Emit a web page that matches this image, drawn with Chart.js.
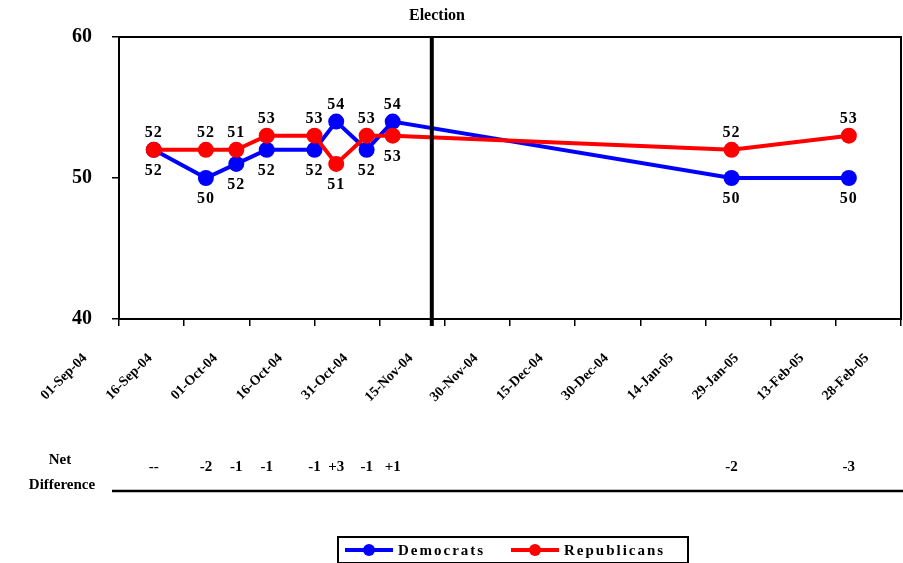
<!DOCTYPE html>
<html>
<head>
<meta charset="utf-8">
<script src="https://cdn.jsdelivr.net/npm/chart.js@4/dist/chart.umd.min.js"></script>
<style>
  html, body { margin: 0; padding: 0; background: #fff; }
  #wrap { width: 903px; height: 563px; }
</style>
</head>
<body>
<div id="wrap"><canvas id="line-chart"></canvas></div>
<script>
// poll dates and results
const pollDates = ['2004-09-09', '2004-09-21', '2004-09-28', '2004-10-05', '2004-10-16',
  '2004-10-21', '2004-10-28', '2004-11-03', '2005-01-20', '2005-02-16']
const democrats = [52, 50, 51, 52, 52, 54, 52, 54, 50, 50]
const republicans = [52, 52, 52, 53, 53, 51, 53, 53, 52, 53]
// labels as printed on the original chart
const demLabels = ['52', '50', '52', '52', '52', '54', '52', '54', '50', '50']
const repLabels = ['52', '52', '51', '53', '53', '51', '53', '53', '52', '53']

const startDate = '2004-09-01'
const electionDate = '2004-11-12'
const tickLabels = ['01-Sep-04', '16-Sep-04', '01-Oct-04', '16-Oct-04', '31-Oct-04', '15-Nov-04',
  '30-Nov-04', '15-Dec-04', '30-Dec-04', '14-Jan-05', '29-Jan-05', '13-Feb-05', '28-Feb-05']

const dayOf = (d) => (Date.parse(d) - Date.parse(startDate)) / 864e5
const serif = 'Liberation Serif'

const overlay = {
  id: 'overlay',
  afterDatasetsDraw (chart) {
    const { ctx, chartArea: area, scales: { x, y } } = chart
    ctx.save()
    // frame
    ctx.strokeStyle = '#000'
    ctx.lineWidth = 2
    ctx.strokeRect(area.left, area.top, area.right - area.left, area.bottom - area.top)
    // election day marker
    const ex = x.getPixelForValue(dayOf(electionDate))
    ctx.lineWidth = 4
    ctx.beginPath()
    ctx.moveTo(ex, area.top)
    ctx.lineTo(ex, area.bottom + 7)
    ctx.stroke()

    // point labels
    ctx.fillStyle = '#000'
    ctx.font = `bold 16px "${serif}"`
    ctx.letterSpacing = '1px'
    ctx.textAlign = 'center'
    ctx.textBaseline = 'middle'
    pollDates.forEach((d, i) => {
      const px = x.getPixelForValue(dayOf(d))
      const demUp = democrats[i] > republicans[i]
      const dy = y.getPixelForValue(democrats[i]) + (demUp ? -17 : 21)
      const ry = y.getPixelForValue(republicans[i]) + (demUp ? 21 : -17)
      ctx.fillText(demLabels[i], px, dy)
      ctx.fillText(repLabels[i], px, ry)
    })

    // net difference row
    ctx.font = `bold 15px "${serif}"`
    ctx.letterSpacing = '0px'
    pollDates.forEach((d, i) => {
      const diff = democrats[i] - republicans[i]
      const txt = i === 0 ? '--' : (diff > 0 ? '+' + diff : String(diff))
      ctx.fillText(txt, x.getPixelForValue(dayOf(d)), 467)
    })
    ctx.fillText('Net', 60, 460)
    ctx.fillText('Difference', 62, 485)
    ctx.lineWidth = 2.5
    ctx.beginPath()
    ctx.moveTo(112, 491)
    ctx.lineTo(903, 491)
    ctx.stroke()

    // title
    ctx.font = `bold 16px "${serif}"`
    ctx.fillText('Election', 437, 16)

    // legend
    ctx.lineWidth = 2
    ctx.strokeRect(338, 537, 350, 26)
    const items = [
      { name: 'Democrats', color: '#0000FF', x: 345 },
      { name: 'Republicans', color: '#FF0000', x: 511 }
    ]
    ctx.textAlign = 'left'
    ctx.font = `bold 15px "${serif}"`
    ctx.letterSpacing = '2px'
    items.forEach((it) => {
      ctx.strokeStyle = it.color
      ctx.fillStyle = it.color
      ctx.lineWidth = 4
      ctx.beginPath()
      ctx.moveTo(it.x, 550)
      ctx.lineTo(it.x + 48, 550)
      ctx.stroke()
      ctx.beginPath()
      ctx.arc(it.x + 24, 550, 6, 0, Math.PI * 2)
      ctx.fill()
      ctx.fillStyle = '#000'
      ctx.fillText(it.name, it.x + 53, 551)
    })
    ctx.restore()
  }
}

const toPoints = (vals) => vals.map((v, i) => ({ x: dayOf(pollDates[i]), y: v }))

// eslint-disable-next-line no-unused-vars, no-undef
const chart = new Chart(document.querySelector('#line-chart'), {
  type: 'line',
  data: {
    datasets: [{
      label: 'Democrats',
      data: toPoints(democrats),
      borderColor: '#0000FF',
      backgroundColor: '#0000FF',
      borderWidth: 4,
      pointRadius: 8,
      pointBorderWidth: 0,
      order: 2
    }, {
      label: 'Republicans',
      data: toPoints(republicans),
      borderColor: '#FF0000',
      backgroundColor: '#FF0000',
      borderWidth: 4,
      pointRadius: 8,
      pointBorderWidth: 0,
      order: 1
    }]
  },
  options: {
    responsive: true,
    maintainAspectRatio: false,
    animation: false,
    layout: { autoPadding: false, padding: { top: 37, right: 2, left: 0, bottom: 0 } },
    scales: {
      x: {
        type: 'linear',
        min: 0,
        max: 180,
        ticks: {
          stepSize: 15,
          autoSkip: false,
          minRotation: 45,
          maxRotation: 45,
          padding: 24,
          labelOffset: -34,
          color: '#000',
          font: { family: serif, size: 14, weight: 'bold' },
          callback: (v) => tickLabels[Math.round(v / 15)]
        },
        grid: { drawOnChartArea: false, tickLength: 7, color: '#000', lineWidth: 1.5 },
        border: { display: false },
        afterFit (scale) {
          scale.height = 244
          scale.paddingLeft = 0
          scale.paddingRight = 0
        }
      },
      y: {
        min: 40,
        max: 60,
        ticks: {
          stepSize: 10,
          padding: 20,
          color: '#000',
          font: { family: serif, size: 20, weight: 'bold' }
        },
        grid: { drawOnChartArea: false, tickLength: 7, color: '#000', lineWidth: 1.5 },
        border: { display: false },
        afterFit (scale) {
          scale.width = 119
          scale.paddingTop = 0
          scale.paddingBottom = 0
        }
      }
    },
    plugins: {
      legend: { display: false },
      tooltip: { enabled: false }
    }
  },
  plugins: [overlay]
})
</script>
</body>
</html>
